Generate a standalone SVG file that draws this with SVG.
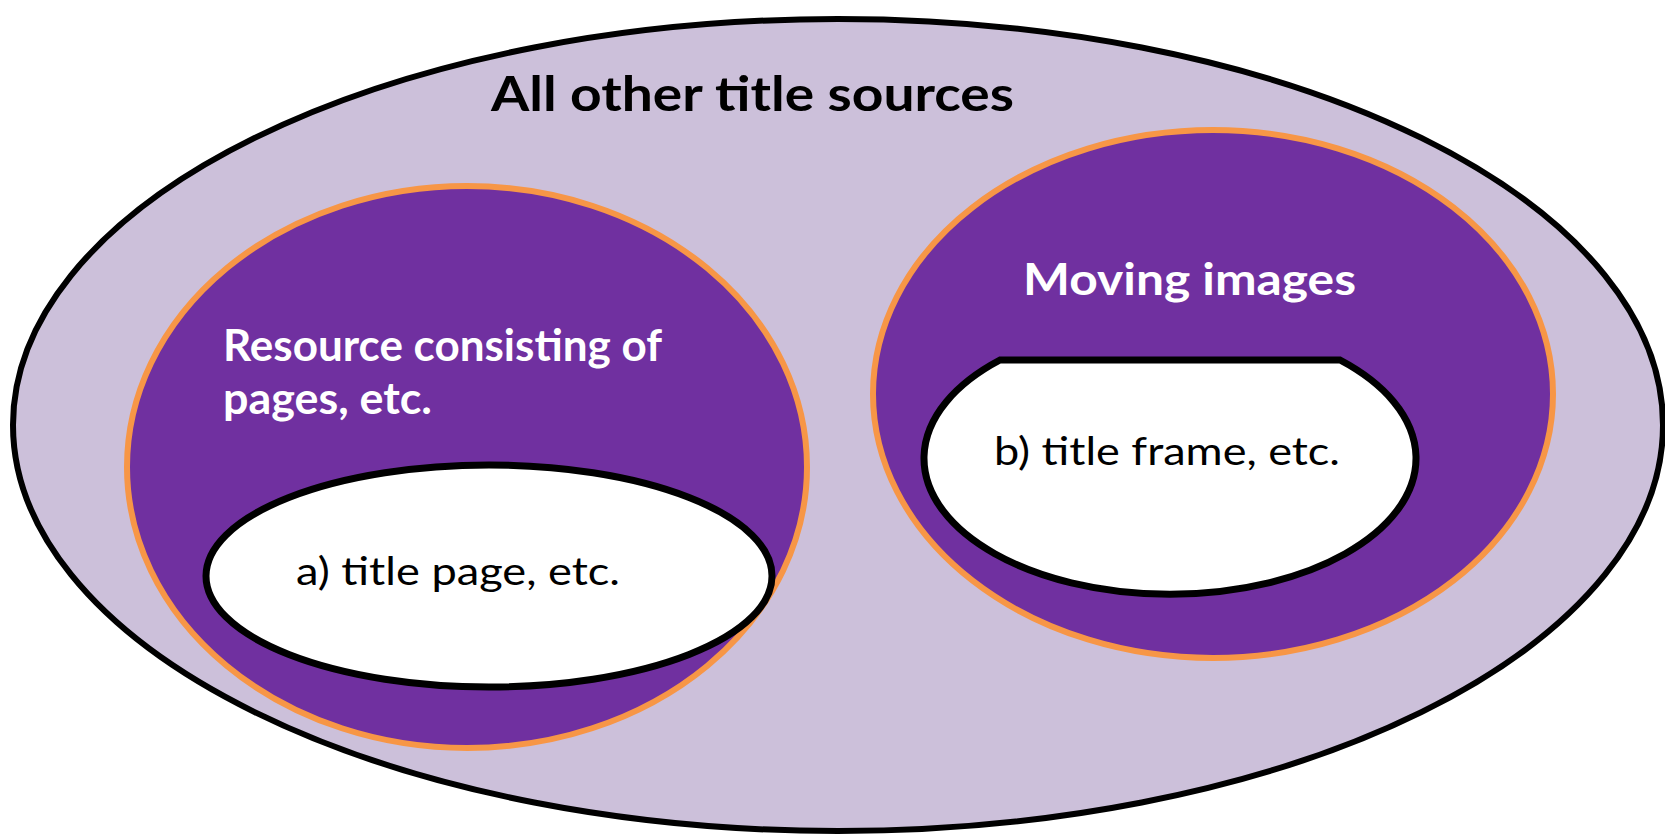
<svg xmlns="http://www.w3.org/2000/svg" width="1665" height="835" viewBox="0 0 1665 835">
<style>
.bg{fill:#ffffff}
.outer{fill:#ccc0da;stroke:#000;stroke-width:6}
.set{fill:#7030a0;stroke:#f79646;stroke-width:6}
.inner{fill:#ffffff;stroke:#000;stroke-width:7}
.t{font-family:Lato,"Open Sans","Noto Sans",sans-serif}
.title{font-size:47px;font-weight:bold;fill:#000}
.head{font-size:44px;font-weight:bold;fill:#fff}
.lab{font-size:38px;fill:#000}
</style>
<rect class="bg" x="0" y="0" width="1665" height="835"/>
<g id="all-other-title-sources">
<ellipse class="outer" cx="838" cy="425" rx="825" ry="406"/>
<text class="t title" x="491" y="111" textLength="523" lengthAdjust="spacingAndGlyphs">All other title sources</text>
</g>
<g id="resource-consisting-of-pages">
<ellipse class="set" cx="467" cy="467" rx="340" ry="281"/>
<text class="t head" x="223" y="361" textLength="439" lengthAdjust="spacingAndGlyphs">Resource consisting of</text>
<text class="t head" x="223" y="414" textLength="209" lengthAdjust="spacingAndGlyphs">pages, etc.</text>
</g>
<g id="moving-images">
<ellipse class="set" cx="1213" cy="394" rx="340" ry="264"/>
<text class="t head" x="1023" y="295" textLength="333" lengthAdjust="spacingAndGlyphs">Moving images</text>
</g>
<g id="title-page">
<ellipse class="inner" cx="489" cy="576" rx="283" ry="111"/>
<text class="t lab" x="296" y="585" textLength="324" lengthAdjust="spacingAndGlyphs">a) title page, etc.</text>
</g>
<g id="title-frame">
<path class="inner" d="M 1000 360 L 1340 360 A 246 136 0 1 1 1000 360 Z"/>
<text class="t lab" x="994" y="465" textLength="346" lengthAdjust="spacingAndGlyphs">b) title frame, etc.</text>
</g>
<g id="connectors"></g>
</svg>
